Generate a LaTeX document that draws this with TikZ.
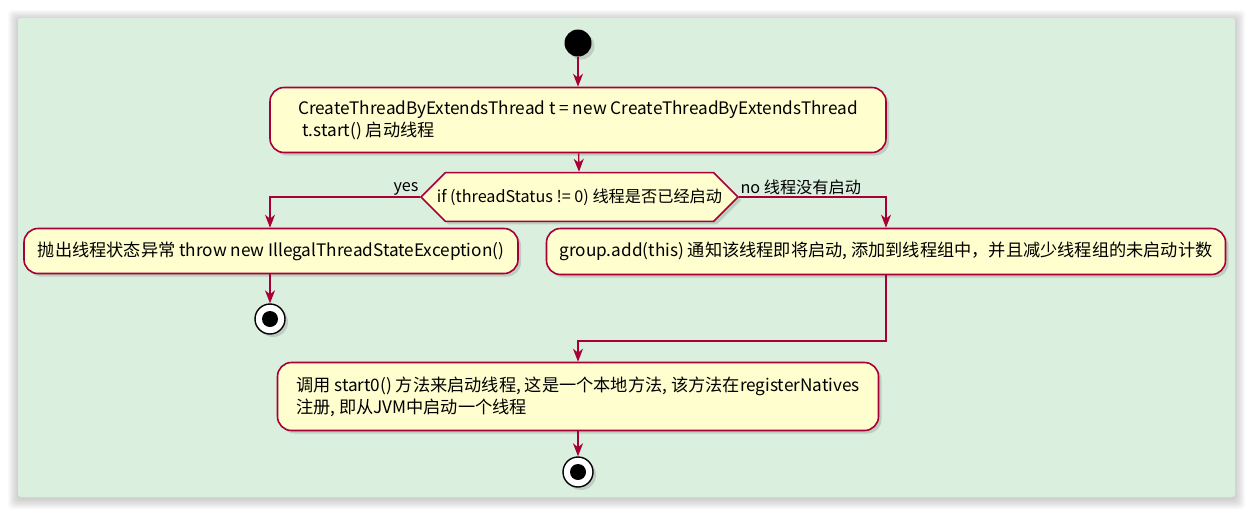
\documentclass[tikz,border=0pt]{standalone}
\usepackage{fontspec}
\setmainfont{Noto Sans CJK SC}
\usetikzlibrary{arrows.meta,shapes.misc,shadows}
\definecolor{umlred}{RGB}{168,0,54}
\definecolor{umlfill}{RGB}{254,254,206}
\definecolor{panelgreen}{RGB}{219,239,223}
\tikzset{
  umlshadow/.style={drop shadow={shadow xshift=3pt, shadow yshift=-3pt, opacity=0.3}},
  act_style/.style={rectangle, rounded corners=14pt, draw=umlred, fill=umlfill, line width=1.6pt,
    umlshadow, font=\fontsize{17.2}{22}\selectfont, align=left, inner sep=0pt},
  check_style/.style={chamfered rectangle, chamfered rectangle xsep=11pt, chamfered rectangle ysep=16pt,
    draw=umlred, fill=umlfill, line width=1.6pt, umlshadow, inner sep=0pt,
    minimum width=317pt, minimum height=32pt, font=\fontsize{16.2}{20}\selectfont},
  start_style/.style={circle, fill=black, minimum size=27pt, inner sep=0pt, umlshadow},
  stop_style/.style={circle, draw=black, fill=white, line width=1.4pt, minimum size=30pt, inner sep=0pt, umlshadow,
    path picture={\fill[black] (path picture bounding box.center) circle (8pt);}},
  flow/.style={draw=umlred, line width=1.4pt, -{Stealth[length=13pt, width=10pt, inset=4pt]}},
  branch_label/.style={font=\fontsize{16.2}{20}\selectfont, inner sep=1pt}
}
\begin{document}
\begin{tikzpicture}[x=1pt, y=-1pt]
\useasboundingbox (0,0) rectangle (1253,515);
% fond avec ombre floue
\foreach \r in {1,...,10} {
  \fill[black, opacity=0.018, rounded corners=4pt] (18-\r,18-\r+2) rectangle (1235+\r,497+\r+2);
}
\fill[panelgreen, rounded corners=3pt] (18,18) rectangle (1235,497);

% noeuds
\node[start_style] (start) at (578,43) {};
\node[act_style, minimum width=616pt, minimum height=65pt] (create) at (578,120)
  {CreateThreadByExtendsThread t = new CreateThreadByExtendsThread\\\hspace{0.25em}t.start() 启动线程};
\node[check_style] (check) at (579.5,197) {if (threadStatus != 0) 线程是否已经启动};
\node[act_style, minimum width=494pt, minimum height=45pt] (throw) at (271,251)
  {抛出线程状态异常 throw new IllegalThreadStateException()};
\node[stop_style] (stop1) at (270,319) {};
\node[act_style, minimum width=679pt, minimum height=46pt] (add) at (886,251.5)
  {group.add(this) 通知该线程即将启动, 添加到线程组中，并且减少线程组的未启动计数};
\node[act_style, minimum width=601pt, minimum height=68pt] (start0) at (578,396.5)
  {调用 start0() 方法来启动线程, 这是一个本地方法, 该方法在registerNatives\\注册, 即从JVM中启动一个线程};
\node[stop_style] (stop2) at (578,472) {};

% fleches
\coordinate (join) at (578,341);
\draw[flow] (start) -- (create);
\draw[flow] (create) -- (check);
\draw[flow] (check.west) -| node[branch_label, pos=0, above left] (yes) {yes} (throw.north -| stop1);
\draw[flow] (check.east) -| node[branch_label, pos=0, above right] (no) {no 线程没有启动} (add.north);
\draw[flow] (throw.south -| stop1) -- (stop1);
\draw[flow] (add.south) |- (join) -- (start0.north);
\draw[flow] (start0) -- (stop2);
\end{tikzpicture}
\end{document}
